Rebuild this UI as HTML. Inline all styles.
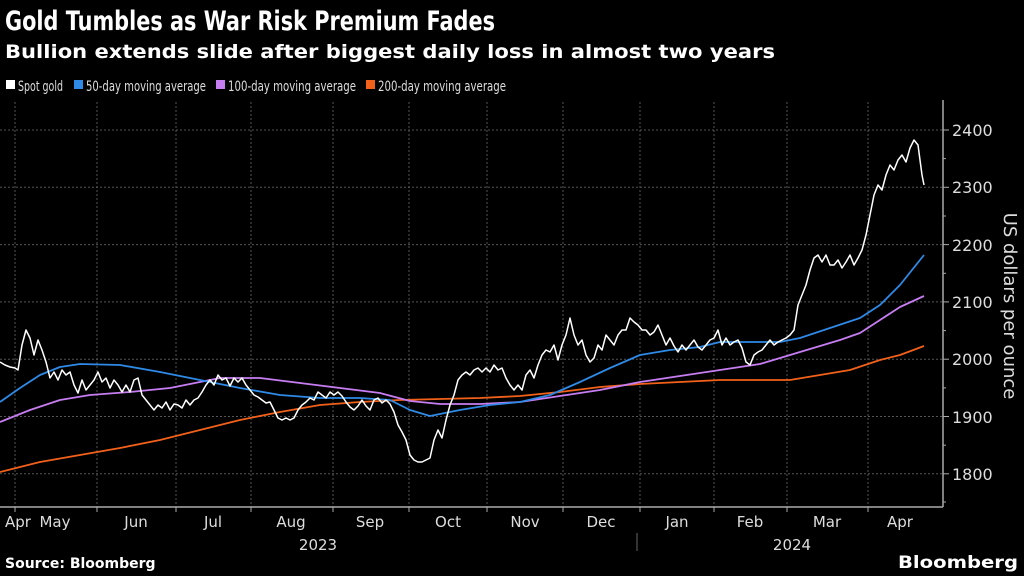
<!DOCTYPE html>
<html><head><meta charset="utf-8"><style>
body{margin:0;background:#000;}
svg{display:block;font-family:"DejaVu Sans","Liberation Sans",sans-serif;}
</style></head><body>
<svg width="1024" height="576" viewBox="0 0 1024 576">
<rect width="1024" height="576" fill="#000"/>
<text x="5" y="30" fill="#fff" font-size="27" font-weight="bold" textLength="490" lengthAdjust="spacingAndGlyphs">Gold Tumbles as War Risk Premium Fades</text>
<text x="5" y="58" fill="#fff" font-size="19" font-weight="bold" textLength="770" lengthAdjust="spacingAndGlyphs">Bullion extends slide after biggest daily loss in almost two years</text>
<g font-size="14" fill="#ddd">
<rect x="6" y="80" width="9" height="9" fill="#fff"/><text x="18" y="91" textLength="45" lengthAdjust="spacingAndGlyphs">Spot gold</text>
<rect x="74" y="80" width="9" height="9" fill="#2e8ae6"/><text x="86" y="91" textLength="120" lengthAdjust="spacingAndGlyphs">50-day moving average</text>
<rect x="216" y="80" width="9" height="9" fill="#c77df2"/><text x="228" y="91" textLength="128" lengthAdjust="spacingAndGlyphs">100-day moving average</text>
<rect x="366" y="80" width="9" height="9" fill="#f2611a"/><text x="378" y="91" textLength="128" lengthAdjust="spacingAndGlyphs">200-day moving average</text>
</g>
<g stroke="#555" stroke-width="1" stroke-dasharray="2,2">
<line x1="0" x2="943" y1="130" y2="130"/><line x1="0" x2="943" y1="187.3" y2="187.3"/><line x1="0" x2="943" y1="244.6" y2="244.6"/><line x1="0" x2="943" y1="301.9" y2="301.9"/><line x1="0" x2="943" y1="359.2" y2="359.2"/><line x1="0" x2="943" y1="416.5" y2="416.5"/><line x1="0" x2="943" y1="473.8" y2="473.8"/>
<line x1="15" x2="15" y1="102" y2="507"/><line x1="97" x2="97" y1="102" y2="507"/><line x1="176" x2="176" y1="102" y2="507"/><line x1="251" x2="251" y1="102" y2="507"/><line x1="333" x2="333" y1="102" y2="507"/><line x1="409" x2="409" y1="102" y2="507"/><line x1="487" x2="487" y1="102" y2="507"/><line x1="563" x2="563" y1="102" y2="507"/><line x1="640" x2="640" y1="102" y2="507"/><line x1="714" x2="714" y1="102" y2="507"/><line x1="787" x2="787" y1="102" y2="507"/><line x1="868" x2="868" y1="102" y2="507"/>
</g>
<g stroke="#aaa" stroke-width="1.5" fill="none">
<line x1="0" x2="943" y1="507" y2="507"/><line x1="943" x2="943" y1="100" y2="507"/>
</g>
<g stroke="#aaa" stroke-width="1">
<line x1="943" x2="949" y1="130" y2="130"/><line x1="943" x2="946" y1="158.6" y2="158.6"/><line x1="943" x2="949" y1="187.3" y2="187.3"/><line x1="943" x2="946" y1="216" y2="216"/><line x1="943" x2="949" y1="244.6" y2="244.6"/><line x1="943" x2="946" y1="273.3" y2="273.3"/><line x1="943" x2="949" y1="301.9" y2="301.9"/><line x1="943" x2="946" y1="330.6" y2="330.6"/><line x1="943" x2="949" y1="359.2" y2="359.2"/><line x1="943" x2="946" y1="387.9" y2="387.9"/><line x1="943" x2="949" y1="416.5" y2="416.5"/><line x1="943" x2="946" y1="445.2" y2="445.2"/><line x1="943" x2="949" y1="473.8" y2="473.8"/><line x1="943" x2="946" y1="502" y2="502"/>
<line x1="15" x2="15" y1="507" y2="512"/><line x1="97" x2="97" y1="507" y2="512"/><line x1="176" x2="176" y1="507" y2="512"/><line x1="251" x2="251" y1="507" y2="512"/><line x1="333" x2="333" y1="507" y2="512"/><line x1="409" x2="409" y1="507" y2="512"/><line x1="487" x2="487" y1="507" y2="512"/><line x1="563" x2="563" y1="507" y2="512"/><line x1="640" x2="640" y1="507" y2="512"/><line x1="714" x2="714" y1="507" y2="512"/><line x1="787" x2="787" y1="507" y2="512"/><line x1="868" x2="868" y1="507" y2="512"/>
<line x1="637" x2="637" y1="533" y2="551" stroke="#666"/>
</g>
<g fill="#ddd" font-size="16">
<text x="952" y="136">2400</text><text x="952" y="193">2300</text><text x="952" y="251">2200</text><text x="952" y="308">2100</text><text x="952" y="365">2000</text><text x="952" y="423">1900</text><text x="952" y="480">1800</text>
</g>
<text transform="translate(1004,306) rotate(90)" fill="#ddd" font-size="18" text-anchor="middle">US dollars per ounce</text>
<g fill="#ddd" font-size="15" text-anchor="middle">
<text x="18" y="527">Apr</text><text x="55" y="527">May</text><text x="136" y="527">Jun</text><text x="213" y="527">Jul</text><text x="291" y="527">Aug</text><text x="370" y="527">Sep</text><text x="448" y="527">Oct</text><text x="525" y="527">Nov</text><text x="601" y="527">Dec</text><text x="677" y="527">Jan</text><text x="750" y="527">Feb</text><text x="827" y="527">Mar</text><text x="900" y="527">Apr</text>
<text x="318" y="550">2023</text><text x="792" y="550">2024</text>
</g>
<text x="5" y="568" fill="#fff" font-size="14" font-weight="bold">Source: Bloomberg</text>
<text x="1018" y="568" fill="#fff" font-size="17" font-weight="bold" text-anchor="end" textLength="120" lengthAdjust="spacingAndGlyphs">Bloomberg</text>
<g fill="none" stroke-width="1.8" stroke-linejoin="round">
<polyline stroke="#f2611a" points="0,472 40,462 80,455 120,448 160,440 200,430 240,420 280,412 320,405 360,402 400,400 440,399 480,398 520,396 560,392 600,387 640,384 680,382 720,380 760,380 790,380 820,375 850,370 880,360 900,355 924,346"/>
<polyline stroke="#c77df2" points="0,422 30,410 60,400 90,395 130,392 170,388 220,378 260,378 300,383 340,388 380,393 410,401 440,404 480,404 520,402 560,396 600,390 640,382 680,376 720,370 760,364 800,352 840,340 860,333 880,320 900,307 924,296"/>
<polyline stroke="#2e8ae6" points="0,402 20,388 40,375 60,367 80,364 120,365 160,372 200,380 240,388 280,395 320,398 360,398 390,400 410,410 430,416 460,410 490,405 520,402 550,395 580,382 610,368 640,355 670,350 700,347 720,342 750,342 780,342 800,338 830,328 860,318 880,305 900,285 924,255"/>
<polyline stroke="#fff" stroke-width="1.5" points="0,362 5,365 10,367 15,368 18,370 22,345 26,330 30,338 34,355 38,340 42,350 46,362 50,378 54,372 58,380 62,370 66,375 70,372 74,385 78,393 82,380 86,390 90,385 94,380 98,372 102,382 106,378 110,388 114,380 118,385 122,392 126,385 130,392 134,380 138,378 142,395 146,400 150,405 154,410 158,405 162,408 166,402 170,410 174,404 178,405 182,408 186,400 190,405 194,400 198,398 202,392 206,385 210,380 214,385 218,375 222,380 226,378 230,386 234,378 238,382 242,378 246,385 250,390 254,395 258,397 262,400 266,403 270,402 274,410 278,418 282,420 286,418 290,420 294,418 298,410 302,405 306,402 310,398 314,400 318,392 322,395 326,398 330,392 334,395 338,392 342,396 346,402 350,407 354,410 358,406 362,400 366,406 370,410 374,400 378,398 382,403 386,400 390,404 394,412 398,425 402,432 406,440 410,455 414,460 418,462 422,462 426,460 430,458 434,440 438,430 442,438 446,420 450,405 454,395 458,380 462,375 466,372 470,375 474,370 478,368 482,372 486,368 490,372 494,365 498,370 502,368 506,378 510,385 514,390 518,385 522,390 526,375 530,370 534,378 538,365 542,355 546,350 550,352 554,345 558,360 562,345 566,335 570,318 574,335 578,345 582,340 586,355 590,362 594,358 598,345 602,350 606,335 610,340 614,345 618,335 622,330 626,330 630,318 634,322 638,325 642,330 646,330 650,335 654,332 658,325 662,335 666,345 670,338 674,346 678,352 682,345 686,350 690,345 694,340 698,347 702,350 706,345 710,340 714,338 718,330 722,345 726,338 730,345 734,342 738,340 742,348 746,362 750,365 754,355 758,352 762,350 766,345 770,340 774,345 778,342 782,340 786,338 790,335 794,330 798,305 802,295 806,285 810,270 814,258 818,255 822,262 826,255 830,265 834,265 838,260 842,268 846,262 850,255 854,265 858,258 862,250 866,235 870,215 874,195 878,185 882,190 886,175 890,165 894,170 898,160 902,155 906,162 910,148 914,140 918,145 920,160 922,175 924,185"/>
</g>
</svg>
</body></html>
